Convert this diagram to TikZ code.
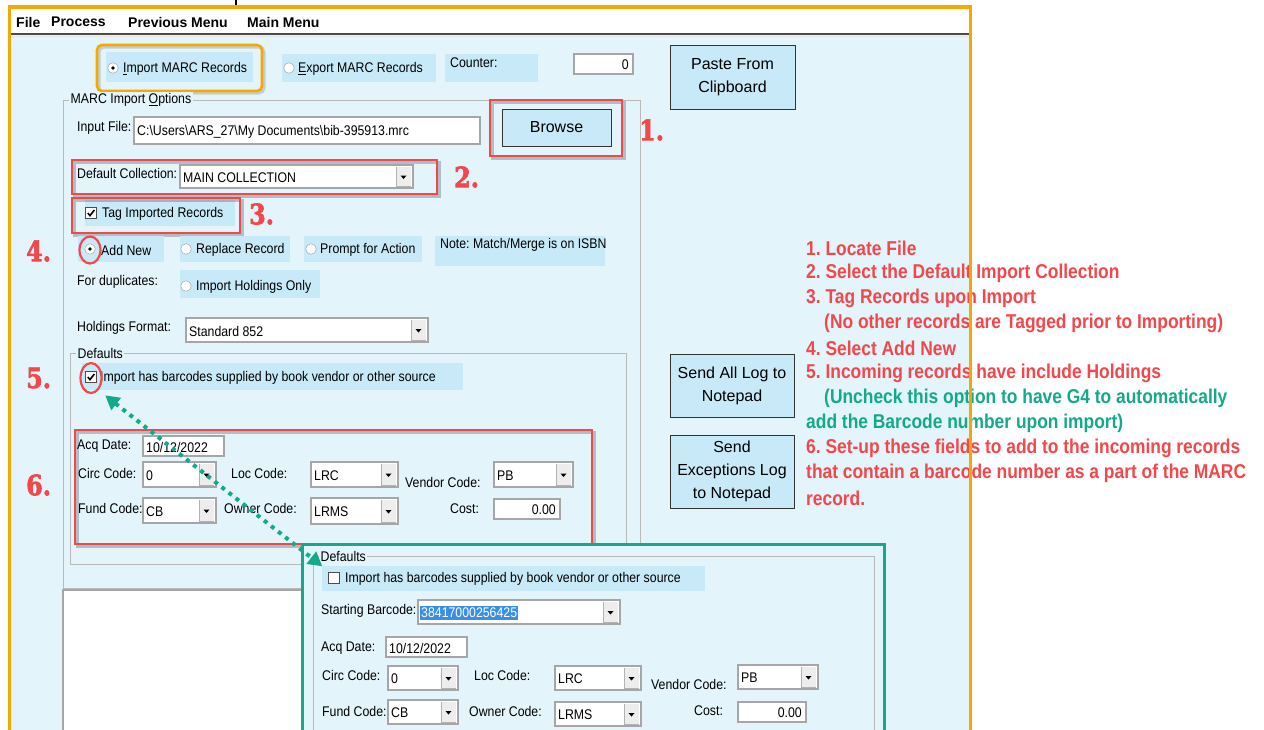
\documentclass[tikz,border=0pt]{standalone}
\usepackage{fontspec}
\usetikzlibrary{arrows.meta}
\frenchspacing
\newfontfamily\uifont[FakeStretch=0.88]{Liberation Sans}
\newfontfamily\btnfont{Liberation Sans}
\newfontfamily\menufont{Liberation Sans}
\newfontfamily\annfont[FakeStretch=0.87]{Liberation Sans}
\newfontfamily\numfont[FakeStretch=0.85, FakeBold=2.2]{DejaVu Serif Bold}
\definecolor{panel}{HTML}{E3F4FB}
\definecolor{ctl}{HTML}{C8EAF8}
\definecolor{annred}{HTML}{F2474B}
\definecolor{orng}{HTML}{F6A800}
\definecolor{mygreen}{HTML}{13A98A}
\definecolor{hilite}{HTML}{3A8EE6}
\definecolor{btngray}{HTML}{EDEDED}
\tikzset{
  ui/.style={font=\uifont\fontsize{14}{16}\selectfont, anchor=west, inner sep=0pt, text=black},
  menu/.style={font=\menufont\bfseries\fontsize{14}{16}\selectfont, anchor=west, inner sep=0pt},
  ann/.style={font=\annfont\bfseries\fontsize{20}{22}\selectfont, anchor=west, inner sep=0pt, text=annred},
  anngreen/.style={ann, text=mygreen},
  num/.style={font=\numfont\fontsize{28}{28}\selectfont, anchor=west, inner sep=0pt, text=annred},
  btn/.style={draw=black!80, line width=1pt, fill=ctl, align=center, inner sep=0pt,
    font=\btnfont\fontsize{16}{23}\selectfont},
  radio/.style={circle, draw=gray!80, fill=white, minimum size=10.5pt, inner sep=0pt},
  chk/.style={rectangle, draw=black!70, fill=white, minimum size=11pt, inner sep=0pt},
  sunken/.style={draw=gray!70, line width=1.2pt, fill=white},
  grp/.style={draw=gray!55, line width=0.9pt},
  grplabel/.style={ui, fill=panel, inner xsep=1.5pt, inner ysep=1pt},
  redring/.style={draw=annred, line width=2.2pt, ellipse},
  dotarrow/.style={mygreen, line width=4pt, dash pattern=on 4pt off 5pt,
    {Triangle[length=14pt,width=15pt]}-{Triangle[length=14pt,width=15pt]}},
}
% combobox: name, x1, y1, x2, y2, text
\newcommand\uicombo[6]{%
  \draw[sunken] (#2,#3) rectangle (#4,#5);
  \fill[btngray] ({#4-17},{#3+2}) rectangle ({#4-2},{#5-2});
  \draw[gray!60, line width=0.8pt] ({#4-17},{#3+2}) -- ({#4-17},{#5-2}) -- ({#4-2},{#5-2});
  \fill ({#4-12.5},{(#3+#5)/2-1}) -- ({#4-6.5},{(#3+#5)/2-1}) -- ({#4-9.5},{(#3+#5)/2+2.5}) -- cycle;
  \node[ui] (#1) at ({#2+3},{(#3+#5)/2+1}) {#6};
}
% textbox: name, x1, y1, x2, y2, text (left)
\newcommand\uitextbox[6]{%
  \draw[sunken] (#2,#3) rectangle (#4,#5);
  \node[ui] (#1) at ({#2+3},{(#3+#5)/2+1}) {#6};
}
% textbox right aligned
\newcommand\uinumbox[6]{%
  \draw[sunken] (#2,#3) rectangle (#4,#5);
  \node[ui, anchor=east] (#1) at ({#4-4},{(#3+#5)/2+1}) {#6};
}
% radio: name, x, y, selected
\newcommand\uiradio[4]{%
  \node[radio] (#1) at (#2,#3) {};
  \ifnum#4=1 \fill (#1.center) circle (1.8pt);\fi
}
% checkbox: name, x, y, checked
\newcommand\uicheck[4]{%
  \node[chk] (#1) at (#2,#3) {};
  \ifnum#4=1 \draw[line width=1.6pt] ($(#1.center)+(-3.2,0)$) -- ($(#1.center)+(-1,2.6)$) -- ($(#1.center)+(3.4,-3)$);\fi
}
\newcommand\ctlbg[4]{\fill[ctl] (#1,#2) rectangle (#3,#4);}
\newcommand\redbox[4]{%
  \draw[black, opacity=0.22, line width=3pt] ({#1+2.5},{#2+2.5}) rectangle ({#3+2.5},{#4+2.5});
  \draw[annred, line width=2.6pt] (#1,#2) rectangle (#3,#4);
}
\usetikzlibrary{calc,shapes.geometric}
\begin{document}
\begin{tikzpicture}[x=1pt, y=-1pt]
\useasboundingbox (0,0) rectangle (1264,729);
\clip (0,0) rectangle (1264,729);
\fill[white] (0,0) rectangle (1264,729);
\draw[black, line width=1.6pt] (236,0) -- (236,5);
% window
\fill[panel] (10,9) rectangle (970,740);
\fill[white] (10,9) rectangle (970,33);
\draw[gray!60!black, line width=1.4pt] (10,34) -- (970,34);
\draw[white!80!gray, line width=1pt] (10,36) -- (970,36);
\node[menu] (mFile) at (16,22) {File};
\node[menu] (mProc) at (51,22) {Process};
\node[menu] (mPrev) at (128,22) {Previous Menu};
\node[menu] (mMain) at (247,22) {Main Menu};

% import / export row
\ctlbg{106}{52}{253}{82}
\uiradio{rImp}{113}{68}{1}
\node[ui] (tImp) at (123,69) {\underline{I}mport MARC Records};
\draw[black, opacity=0.15, line width=3pt, rounded corners=5pt] (99,47) rectangle (264,93);
\draw[orng, line width=2.6pt, rounded corners=5pt] (97,45) rectangle (262,91);
\ctlbg{282}{54}{436}{82}
\uiradio{rExp}{289}{68}{0}
\node[ui] (tExp) at (298,69) {\underline{E}xport MARC Records};
\ctlbg{445}{54}{538}{82}
\node[ui] (tCnt) at (450,63) {Counter:};
\uinumbox{vCnt}{574}{54}{633}{74}{0}
\node[btn, minimum width=125pt, minimum height=64pt] (bPaste) at (732.5,77) {Paste From\\Clipboard};

% MARC import options group
\draw[grp] (63,100) rectangle (640,588);
\node[grplabel] (gMarc) at (69,100) {MARC Import \underline{O}ptions};
\node[ui] (lIn) at (77,128) {Input File:};
\uitextbox{vIn}{134}{117}{480}{144}{C:\textbackslash Users\textbackslash ARS\_27\textbackslash My Documents\textbackslash bib-395913.mrc}
\node[btn, minimum width=109pt, minimum height=37pt] (bBrowse) at (556.5,127.5) {Browse};
\redbox{490}{100}{622}{156}
\node[num] (n1) at (639,130) {1.};

\redbox{72}{160}{437}{194}
\node[ui] (lColl) at (77,173) {Default Collection:};
\uicombo{vColl}{180}{165}{413}{188}{MAIN COLLECTION}
\node[num] (n2) at (454,177) {2.};

\ctlbg{85}{200}{235}{226}
\uicheck{cTag}{91}{213}{1}
\node[ui] (tTag) at (102,214) {Tag Imported Records};
\redbox{72}{198}{240}{233}
\node[num] (n3) at (249,214) {3.};

\node[num] (n4) at (26,251) {4.};
\ctlbg{78}{236}{164}{262}
\uiradio{rAdd}{90}{249}{1}
\node[ui] (tAdd) at (101,250) {Add New};
\node[redring, minimum width=21pt, minimum height=27pt, inner sep=0pt] (ring4) at (90,250) {};
\ctlbg{180}{236}{290}{262}
\uiradio{rRep}{186}{249}{0}
\node[ui] (tRep) at (196,250) {Replace Record};
\ctlbg{304}{236}{422}{262}
\uiradio{rPro}{311}{249}{0}
\node[ui] (tPro) at (320,250) {Prompt for Action};
\ctlbg{435}{236}{605}{266}
\node[ui] (tNote) at (440,245) {Note: Match/Merge is on ISBN};

\node[ui] (lDup) at (77,282) {For duplicates:};
\ctlbg{180}{270}{320}{298}
\uiradio{rHold}{186}{286}{0}
\node[ui] (tHold) at (196,287) {Import Holdings Only};

\node[ui] (lHF) at (77,328) {Holdings Format:};
\uicombo{vHF}{186}{318}{428}{342}{Standard 852}

% defaults group
\draw[grp] (70,353) rectangle (626,564);
\node[grplabel] (gDef) at (76,353) {Defaults};
\node[num] (n5) at (26,378) {5.};
\ctlbg{82}{363}{463}{390}
\uicheck{cBar}{91}{377}{1}
\node[ui] (tBar) at (100,378) {Import has barcodes supplied by book vendor or other source};
\node[redring, minimum width=21pt, minimum height=30pt, inner sep=0pt] (ring5) at (91,378) {};

\redbox{75}{430}{592}{544}
\node[num] (n6) at (26,485) {6.};
\node[ui] (lAcq) at (77,446) {Acq Date:};
\uitextbox{vAcq}{143}{436}{224}{456}{10/12/2022}
\node[ui] (lCirc) at (78,473) {Circ Code:};
\uicombo{vCirc}{143}{462}{216}{487}{0}
\node[ui] (lLoc) at (231,473) {Loc Code:};
\uicombo{vLoc}{311}{462}{398}{487}{LRC}
\node[ui] (lVen) at (405,482) {Vendor Code:};
\uicombo{vVen}{494}{462}{573}{487}{PB}
\node[ui] (lFund) at (78,508) {Fund Code:};
\uicombo{vFund}{143}{498}{216}{523}{CB}
\node[ui] (lOwn) at (224,508) {Owner Code:};
\uicombo{vOwn}{311}{498}{398}{524}{LRMS}
\node[ui] (lCost) at (450,509) {Cost:};
\uinumbox{vCost}{494}{499}{560}{519}{0.00}

% list box
\fill[white] (63,590) rectangle (640,740);
\draw[gray!70, line width=1.6pt] (63,740) -- (63,590) -- (640,590);

% right buttons
\node[btn, minimum width=124pt, minimum height=63pt] (bAll) at (732,385.5) {Send All Log to\\Notepad};
\node[btn, minimum width=124pt, minimum height=73pt] (bExc) at (732,471.5) {Send\\Exceptions Log\\to Notepad};

% annotation text
\node[ann] (a1) at (806,248) {1. Locate File};
\node[ann] (a2) at (806,273) {2. Select the Default Import Collection};
\node[ann] (a3) at (806,298) {3. Tag Records upon Import};
\node[ann] (a3b) at (824,323) {(No other records are Tagged prior to Importing)};
\node[ann] (a4) at (806,348) {4. Select Add New};
\node[ann] (a5) at (806,373) {5. Incoming records have include Holdings};
\node[anngreen] (a5b) at (824,398) {(Uncheck this option to have G4 to automatically};
\node[anngreen] (a5c) at (806,423) {add the Barcode number upon import)};
\node[ann] (a6) at (806,448) {6. Set-up these fields to add to the incoming records};
\node[ann] (a6b) at (806,473) {that contain a barcode number as a part of the MARC};
\node[ann] (a6c) at (806,498) {record.};

% orange window frame
\draw[orng, line width=3.5pt] (9.5,740) -- (9.5,7) -- (970.5,7) -- (970.5,740);

% inset
\fill[panel] (302,544) rectangle (884,740);
\draw[grp] (313,556) rectangle (874,760);
\node[grplabel] (giDef) at (319,556) {Defaults};
\ctlbg{322}{566}{705}{591}
\uicheck{ciBar}{334}{578}{0}
\node[ui] (tiBar) at (345,579) {Import has barcodes supplied by book vendor or other source};
\node[ui] (liSB) at (321,611) {Starting Barcode:};
\uicombo{viSB}{418}{600}{620}{624}{}
\node[ui, fill=hilite, text=white, inner xsep=1pt, inner ysep=2pt] (viSBt) at (420,613) {38417000256425};
\node[ui] (liAcq) at (321,648) {Acq Date:};
\uitextbox{viAcq}{386}{637}{467}{657}{10/12/2022}
\node[ui] (liCirc) at (322,675) {Circ Code:};
\uicombo{viCirc}{388}{666}{458}{690}{0}
\node[ui] (liLoc) at (474,675) {Loc Code:};
\uicombo{viLoc}{555}{666}{641}{690}{LRC}
\node[ui] (liVen) at (651,684) {Vendor Code:};
\uicombo{viVen}{738}{665}{818}{689}{PB}
\node[ui] (liFund) at (322,711) {Fund Code:};
\uicombo{viFund}{388}{700}{458}{724}{CB}
\node[ui] (liOwn) at (469,711) {Owner Code:};
\uicombo{viOwn}{555}{702}{641}{726}{LRMS}
\node[ui] (liCost) at (694,711) {Cost:};
\uinumbox{viCost}{738}{702}{806}{722}{0.00}
\draw[mygreen, line width=3pt] (302,740) -- (302,544) -- (884,544) -- (884,740);

% dotted double arrow
\coordinate (arrA) at (ring5.south east);
\coordinate (arrB) at ($(ciBar.north west)+(-6,-6)$);
\draw[dotarrow] ($(arrA)+(6,6)$) -- (arrB);
\end{tikzpicture}
\end{document}
